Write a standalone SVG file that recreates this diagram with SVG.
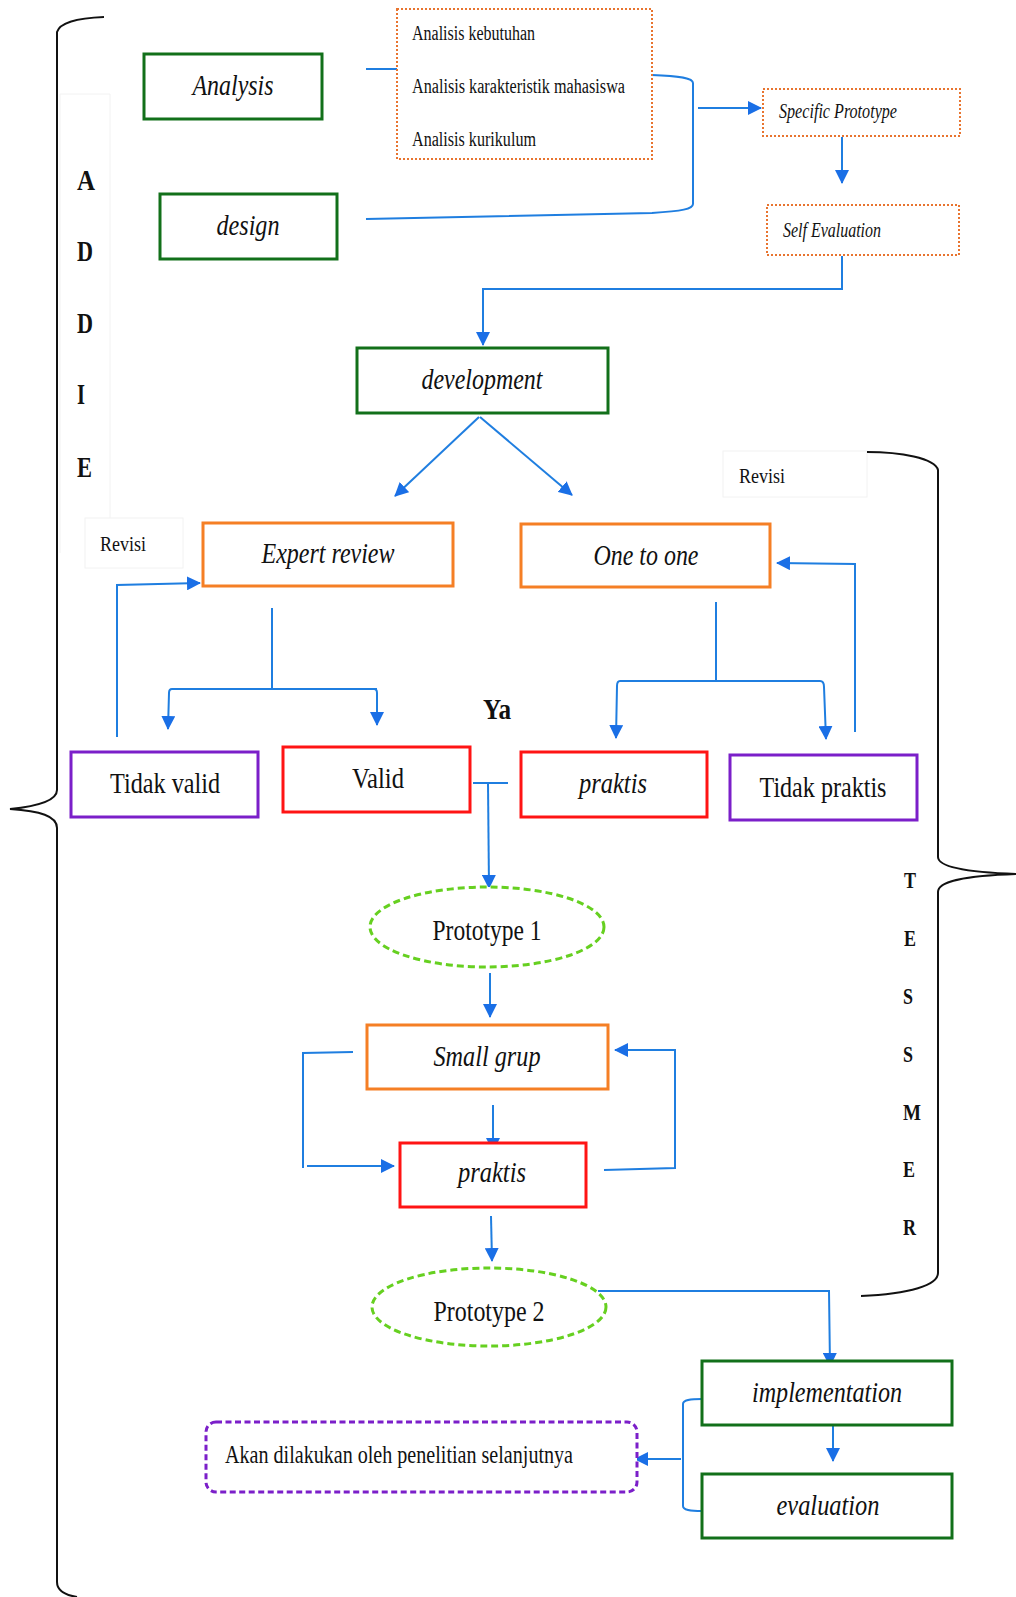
<svg xmlns="http://www.w3.org/2000/svg" width="1016" height="1597" viewBox="0 0 1016 1597">
<style>
text{font-family:"Liberation Serif","Times New Roman",serif;fill:#111}
.it{font-style:italic}
.b{font-weight:bold}
.box{fill:#fff;stroke-width:3}
.g{stroke:#12701a}
.o{stroke:#f57f25}
.r{stroke:#ff1414}
.p{stroke:#7b1fc9}
.od{fill:#fff;stroke:#e8742f;stroke-width:2;stroke-dasharray:2 2}
.el{fill:#fff;stroke:#66d020;stroke-width:3;stroke-dasharray:7 4}
.pd{fill:#fff;stroke:#7b1fc9;stroke-width:3;stroke-dasharray:6 3.5}
.c{fill:none;stroke:#1f7ee0;stroke-width:2}
.ca{fill:none;stroke:#1f7ee0;stroke-width:2;marker-end:url(#ah)}
.br{fill:none;stroke:#111;stroke-width:2}
.faint{fill:none;stroke:#f2f2f2;stroke-width:1}
</style>
<defs>
<marker id="ah" markerUnits="userSpaceOnUse" markerWidth="14" markerHeight="14" refX="13" refY="7" orient="auto">
<path d="M0,0 L14,7 L0,14 z" fill="#1a6fe6"/>
</marker>
</defs>
<rect width="1016" height="1597" fill="#fff"/>

<g id="faint-boxes">
<path class="faint" d="M60,94 L110,94 L110,518 M60,94 L60,553"/>
<rect class="faint" x="85" y="518" width="98" height="50"/>
<rect class="faint" x="723" y="451" width="144" height="46"/>
</g>

<g id="brace-addie">
<path class="br" d="M104,17 C80,18 60,22 57,32 L57,790 C57,800 40,806 10,809 C40,811 57,816 57,828 L57,1582 C57,1590 65,1595 77,1597"/>
<text class="b" x="77" y="190" font-size="30" textLength="18" lengthAdjust="spacingAndGlyphs">A</text>
<text class="b" x="77" y="261" font-size="30" textLength="16" lengthAdjust="spacingAndGlyphs">D</text>
<text class="b" x="77" y="333" font-size="30" textLength="16" lengthAdjust="spacingAndGlyphs">D</text>
<text class="b" x="77" y="404" font-size="30" textLength="8" lengthAdjust="spacingAndGlyphs">I</text>
<text class="b" x="77" y="477" font-size="30" textLength="15" lengthAdjust="spacingAndGlyphs">E</text>
</g>

<g id="brace-tessmer">
<path class="br" d="M867,452 C900,452 935,458 938,470 L938,857 C938,866 960,872 1016,874 C960,876 938,882 938,892 L938,1273 C938,1285 910,1294 861,1296"/>
<text class="b" x="904" y="888" font-size="23" textLength="12" lengthAdjust="spacingAndGlyphs">T</text>
<text class="b" x="904" y="946" font-size="23" textLength="12" lengthAdjust="spacingAndGlyphs">E</text>
<text class="b" x="903" y="1004" font-size="23" textLength="10" lengthAdjust="spacingAndGlyphs">S</text>
<text class="b" x="903" y="1062" font-size="23" textLength="10" lengthAdjust="spacingAndGlyphs">S</text>
<text class="b" x="903" y="1120" font-size="23" textLength="18" lengthAdjust="spacingAndGlyphs">M</text>
<text class="b" x="903" y="1177" font-size="23" textLength="12" lengthAdjust="spacingAndGlyphs">E</text>
<text class="b" x="903" y="1235" font-size="23" textLength="13" lengthAdjust="spacingAndGlyphs">R</text>
</g>

<g id="connectors">
<path class="c" d="M366,69 L397,69"/>
<path class="c" d="M652,75 C680,76 693,78 693,83 L693,204 C693,209 682,211 652,213 L366,219"/>
<path class="ca" d="M698,108 L761,108"/>
<path class="ca" d="M842,137 L842,183"/>
<path class="ca" d="M842,256 L842,289 L483,289 L483,345"/>
<path class="ca" d="M479,417 L395,496"/>
<path class="ca" d="M480,417 L572,495"/>
<path class="ca" d="M117,737 L117,585 L200,583"/>
<path class="c" d="M272,608 L272,689"/>
<path class="ca" d="M377,689 L172,689 Q169,689 169,693 L168,729"/>
<path class="ca" d="M272,689 L374,689 Q377,689 377,693 L377,725"/>
<path class="c" d="M716,602 L716,681"/>
<path class="ca" d="M716,681 L620,681 Q617,681 617,686 L616,738"/>
<path class="ca" d="M716,681 L820,681 Q824,681 824,687 L826,739"/>
<path class="ca" d="M855,732 L855,564 L777,563"/>
<path class="c" d="M473,783 L508,783"/>
<path class="ca" d="M488,783 L489,888"/>
<path class="ca" d="M490,973 L490,1017"/>
<path class="ca" d="M493,1105 L493,1151"/>
<path class="ca" d="M353,1052 L303,1053 L303,1168 M307,1166 L394,1166"/>
<path class="ca" d="M604,1170 L675,1168 L675,1050 L615,1050"/>
<path class="ca" d="M491,1216 L492,1261"/>
<path class="ca" d="M598,1291 L829,1291 L830,1366"/>
<path class="ca" d="M833,1420 L833,1461"/>
<path class="c" d="M702,1399 C690,1399 683,1400 683,1404 L683,1506 C683,1510 690,1511 702,1511"/>
<path class="ca" d="M681,1459 L635,1459"/>
</g>

<g id="node-analysis">
<rect class="box g" x="144" y="54" width="178" height="65"/>
<text class="it" x="233" y="95" font-size="30" text-anchor="middle" textLength="81" lengthAdjust="spacingAndGlyphs">Analysis</text>
</g>
<g id="node-design">
<rect class="box g" x="160" y="194" width="177" height="65"/>
<text class="it" x="248" y="235" font-size="30" text-anchor="middle" textLength="63" lengthAdjust="spacingAndGlyphs">design</text>
</g>
<g id="node-analisis-list">
<rect class="od" x="397" y="9" width="255" height="150"/>
<text x="412" y="40" font-size="20" textLength="123" lengthAdjust="spacingAndGlyphs">Analisis kebutuhan</text>
<text x="412" y="93" font-size="20" textLength="213" lengthAdjust="spacingAndGlyphs">Analisis karakteristik mahasiswa</text>
<text x="412" y="146" font-size="20" textLength="124" lengthAdjust="spacingAndGlyphs">Analisis kurikulum</text>
</g>
<g id="node-specific-prototype">
<rect class="od" x="763" y="89" width="197" height="47"/>
<text class="it" x="779" y="118" font-size="20" textLength="118" lengthAdjust="spacingAndGlyphs">Specific Prototype</text>
</g>
<g id="node-self-evaluation">
<rect class="od" x="767" y="205" width="192" height="50"/>
<text class="it" x="783" y="237" font-size="20" textLength="98" lengthAdjust="spacingAndGlyphs">Self Evaluation</text>
</g>
<g id="node-development">
<rect class="box g" x="357" y="348" width="251" height="65"/>
<text class="it" x="482" y="389" font-size="30" text-anchor="middle" textLength="121" lengthAdjust="spacingAndGlyphs">development</text>
</g>
<g id="label-revisi-left">
<text x="100" y="551" font-size="22" textLength="46" lengthAdjust="spacingAndGlyphs">Revisi</text>
</g>
<g id="label-revisi-right">
<text x="739" y="483" font-size="22" textLength="46" lengthAdjust="spacingAndGlyphs">Revisi</text>
</g>
<g id="node-expert-review">
<rect class="box o" x="203" y="523" width="250" height="63"/>
<text class="it" x="328" y="563" font-size="30" text-anchor="middle" textLength="133" lengthAdjust="spacingAndGlyphs">Expert review</text>
</g>
<g id="node-one-to-one">
<rect class="box o" x="521" y="524" width="249" height="63"/>
<text class="it" x="646" y="565" font-size="30" text-anchor="middle" textLength="105" lengthAdjust="spacingAndGlyphs">One to one</text>
</g>
<g id="node-tidak-valid">
<rect class="box p" x="71" y="752" width="187" height="65"/>
<text x="165" y="793" font-size="30" text-anchor="middle" textLength="110" lengthAdjust="spacingAndGlyphs">Tidak valid</text>
</g>
<g id="node-valid">
<rect class="box r" x="283" y="747" width="187" height="65"/>
<text x="378" y="788" font-size="30" text-anchor="middle" textLength="52" lengthAdjust="spacingAndGlyphs">Valid</text>
</g>
<g id="label-ya">
<text class="b" x="483" y="719" font-size="30" textLength="28" lengthAdjust="spacingAndGlyphs">Ya</text>
</g>
<g id="node-praktis-1">
<rect class="box r" x="521" y="752" width="186" height="65"/>
<text class="it" x="613" y="793" font-size="30" text-anchor="middle" textLength="68" lengthAdjust="spacingAndGlyphs">praktis</text>
</g>
<g id="node-tidak-praktis">
<rect class="box p" x="730" y="755" width="187" height="65"/>
<text x="823" y="797" font-size="30" text-anchor="middle" textLength="127" lengthAdjust="spacingAndGlyphs">Tidak praktis</text>
</g>
<g id="node-prototype-1">
<ellipse class="el" cx="487" cy="927" rx="117" ry="40"/>
<text x="487" y="940" font-size="30" text-anchor="middle" textLength="109" lengthAdjust="spacingAndGlyphs">Prototype 1</text>
</g>
<g id="node-small-grup">
<rect class="box o" x="367" y="1025" width="241" height="64"/>
<text class="it" x="487" y="1066" font-size="30" text-anchor="middle" textLength="107" lengthAdjust="spacingAndGlyphs">Small grup</text>
</g>
<g id="node-praktis-2">
<rect class="box r" x="400" y="1143" width="186" height="64"/>
<text class="it" x="492" y="1182" font-size="30" text-anchor="middle" textLength="68" lengthAdjust="spacingAndGlyphs">praktis</text>
</g>
<g id="node-prototype-2">
<ellipse class="el" cx="489" cy="1307" rx="117" ry="39"/>
<text x="489" y="1321" font-size="30" text-anchor="middle" textLength="111" lengthAdjust="spacingAndGlyphs">Prototype 2</text>
</g>
<g id="node-implementation">
<rect class="box g" x="702" y="1361" width="250" height="64"/>
<text class="it" x="827" y="1402" font-size="30" text-anchor="middle" textLength="150" lengthAdjust="spacingAndGlyphs">implementation</text>
</g>
<g id="node-evaluation">
<rect class="box g" x="702" y="1474" width="250" height="64"/>
<text class="it" x="828" y="1515" font-size="30" text-anchor="middle" textLength="103" lengthAdjust="spacingAndGlyphs">evaluation</text>
</g>
<g id="node-akan">
<rect class="pd" x="206" y="1422" width="431" height="70" rx="10" ry="10"/>
<text x="225" y="1463" font-size="26" textLength="348" lengthAdjust="spacingAndGlyphs">Akan dilakukan oleh penelitian selanjutnya</text>
</g>
</svg>
